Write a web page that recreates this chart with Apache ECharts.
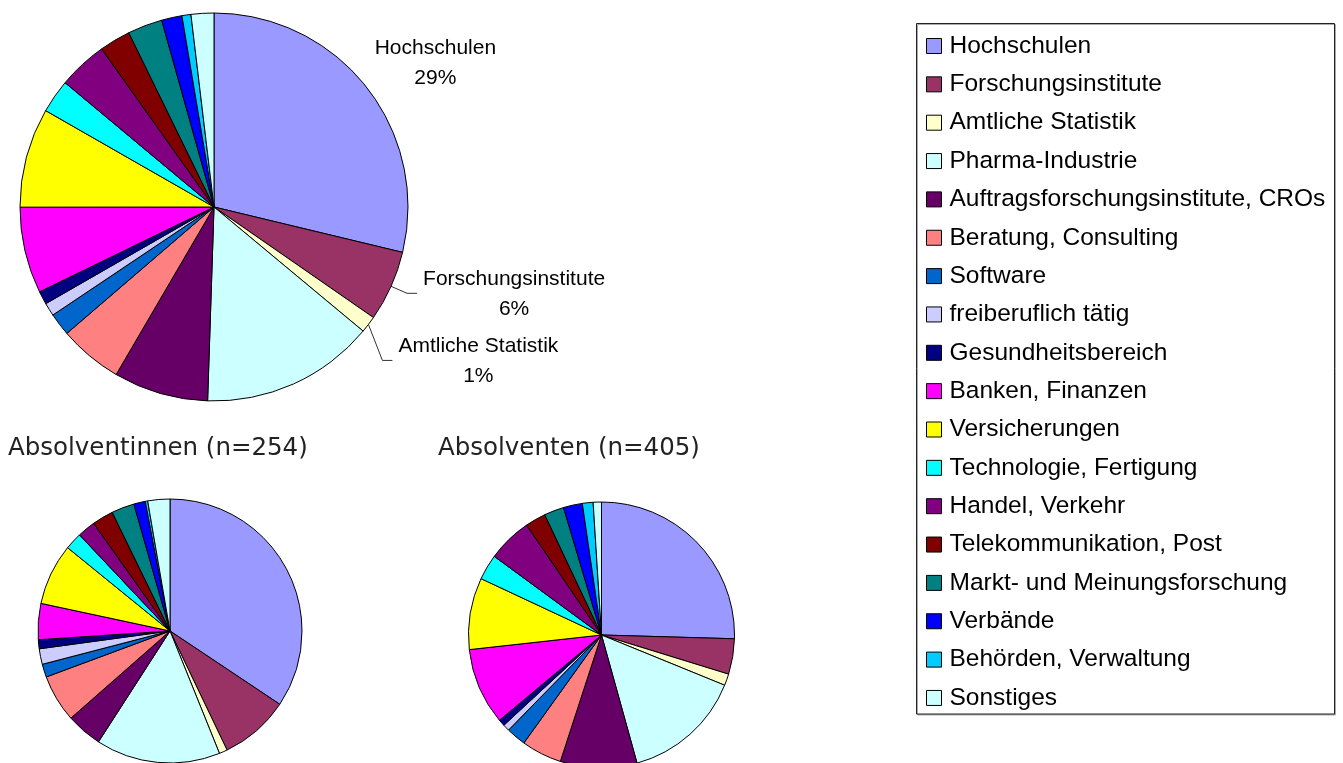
<!DOCTYPE html>
<html>
<head>
<meta charset="utf-8">
<script src="https://cdn.jsdelivr.net/npm/echarts@6/dist/echarts.min.js"></script>
<style>
html,body{margin:0;padding:0;background:#fff;}
#chart{width:1343px;height:763px;}
</style>
</head>
<body>
<div id="chart"></div>
<script>
// ---- data (shares in %) ----
const categories = [
  'Hochschulen', 'Forschungsinstitute', 'Amtliche Statistik', 'Pharma-Industrie',
  'Auftragsforschungsinstitute, CROs', 'Beratung, Consulting', 'Software',
  'freiberuflich tätig', 'Gesundheitsbereich', 'Banken, Finanzen', 'Versicherungen',
  'Technologie, Fertigung', 'Handel, Verkehr', 'Telekommunikation, Post',
  'Markt- und Meinungsforschung', 'Verbände', 'Behörden, Verwaltung', 'Sonstiges'
];
const valuesAll    = [28.8, 5.9, 1.4, 14.5, 7.9, 5.3, 1.9, 1.1, 1.1, 7.2, 8.3, 2.8, 4.1, 2.6, 2.9, 1.7, 0.75, 1.9];
const valuesFemale = [34.3, 8.5, 1.0, 15.2, 4.4, 5.8, 1.6, 1.9, 1.1, 4.4, 7.5, 2.1, 2.2, 2.6, 2.8, 1.4, 0.3, 2.7];
const valuesMale   = [25.4, 4.3, 1.4, 14.5, 9.3, 4.9, 2.4, 0.8, 0.8, 9.3, 8.7, 3.1, 5.4, 2.5, 2.4, 2.3, 1.3, 1.0];
const titleFemale = 'Absolventinnen (n=254)';
const titleMale = 'Absolventen (n=405)';
const labelledMain = [0, 1, 2];

// ---- styling ----
const colors = ['#9999FF', '#993366', '#FFFFCC', '#CCFFFF', '#660066', '#FF8080', '#0066CC',
  '#CCCCFF', '#000080', '#FF00FF', '#FFFF00', '#00FFFF', '#800080', '#800000',
  '#008080', '#0000FF', '#00CCFF', '#CCFFFF'];
// label placement relative to the slice edge point given by the library
const labelPlacement = {
  0: { lx: 69, ly: -24, align: 'center', line: false },
  1: { ex: 16, ey: 7, ex2: 26, lx: 32, ly: 8, align: 'left', line: true },
  2: { ex: 14, ey: 36, ex2: 24, lx: 30, ly: 37, align: 'left', line: true }
};

function buildData(vals, withLabels) {
  return categories.map((name, i) => {
    const d = { name: name, value: vals[i], itemStyle: { color: colors[i] } };
    if (withLabels && labelledMain.indexOf(i) >= 0) {
      d.label = { show: true };
      d.labelLine = { show: true, lineStyle: { opacity: labelPlacement[i].line ? 1 : 0 } };
    }
    return d;
  });
}

const labelFont = { fontFamily: 'Liberation Sans, Arial, sans-serif', fontSize: 21, lineHeight: 30, color: '#000' };
const titleFont = { fontFamily: 'DejaVu Sans', fontSize: 24.5, fontWeight: 'normal', color: '#222' };

const baseSeries = {
  type: 'pie',
  clockwise: true,
  startAngle: 90,
  animation: false,
  avoidLabelOverlap: false,
  percentPrecision: 2,
  itemStyle: { borderColor: '#000', borderWidth: 1 },
  label: { show: false },
  labelLine: { show: false },
  emphasis: { disabled: true },
  silent: true
};

const chart = echarts.init(document.getElementById('chart'), null, { renderer: 'canvas' });
chart.setOption({
  backgroundColor: '#fff',
  animation: false,
  title: [
    { text: titleFemale, left: 8, top: 436.5, padding: 0, textStyle: titleFont },
    { text: titleMale, left: 438, top: 436.5, padding: 0, textStyle: titleFont }
  ],
  graphic: [{
    type: 'rect', z: 0, silent: true,
    shape: { x: 916.5, y: 23.5, width: 418, height: 690.5 },
    style: { fill: '#fff', stroke: '#222', lineWidth: 1, shadowColor: '#aaa', shadowOffsetX: 1, shadowOffsetY: 1, shadowBlur: 0 }
  }],
  legend: {
    orient: 'vertical',
    left: 926,
    top: 33.5,
    padding: 0,
    itemWidth: 15,
    itemHeight: 15,
    itemGap: 13.35,
    icon: 'rect',
    selectedMode: false,
    itemStyle: { borderColor: '#000', borderWidth: 1 },
    textStyle: { fontFamily: 'Liberation Sans, Arial, sans-serif', fontSize: 24.5, lineHeight: 24, color: '#000', padding: [0, 0, 0, 3] },
    data: categories
  },
  series: [
    Object.assign({}, baseSeries, {
      name: 'Gesamt',
      center: [214, 207],
      radius: 194,
      label: {
        show: false,
        position: 'outside',
        formatter: function (p) { return '{c|' + p.name + '}\n{c|' + Math.round(p.percent) + '%}'; },
        rich: { c: Object.assign({ align: 'center' }, labelFont) }
      },
      labelLine: { show: false, length: 16, length2: 9, lineStyle: { color: '#333', width: 1 } },
      labelLayout: function (p) {
        const cfg = labelPlacement[p.dataIndex];
        const pts = p.labelLinePoints;
        if (!cfg || !pts) return {};
        const e = pts[0];
        const out = { x: e[0] + cfg.lx, y: e[1] + cfg.ly, align: cfg.align, verticalAlign: 'middle' };
        if (cfg.line) {
          out.labelLinePoints = [[e[0], e[1]], [e[0] + cfg.ex, e[1] + cfg.ey], [e[0] + cfg.ex2, e[1] + cfg.ey]];
        } else {
          out.labelLinePoints = [[e[0], e[1]], [e[0], e[1]], [e[0], e[1]]];
        }
        return out;
      },
      data: buildData(valuesAll, true)
    }),
    Object.assign({}, baseSeries, {
      name: 'Absolventinnen',
      center: [170, 631],
      radius: 132,
      data: buildData(valuesFemale, false)
    }),
    Object.assign({}, baseSeries, {
      name: 'Absolventen',
      center: [601.5, 635],
      radius: 133,
      data: buildData(valuesMale, false)
    })
  ]
});
</script>
</body>
</html>
